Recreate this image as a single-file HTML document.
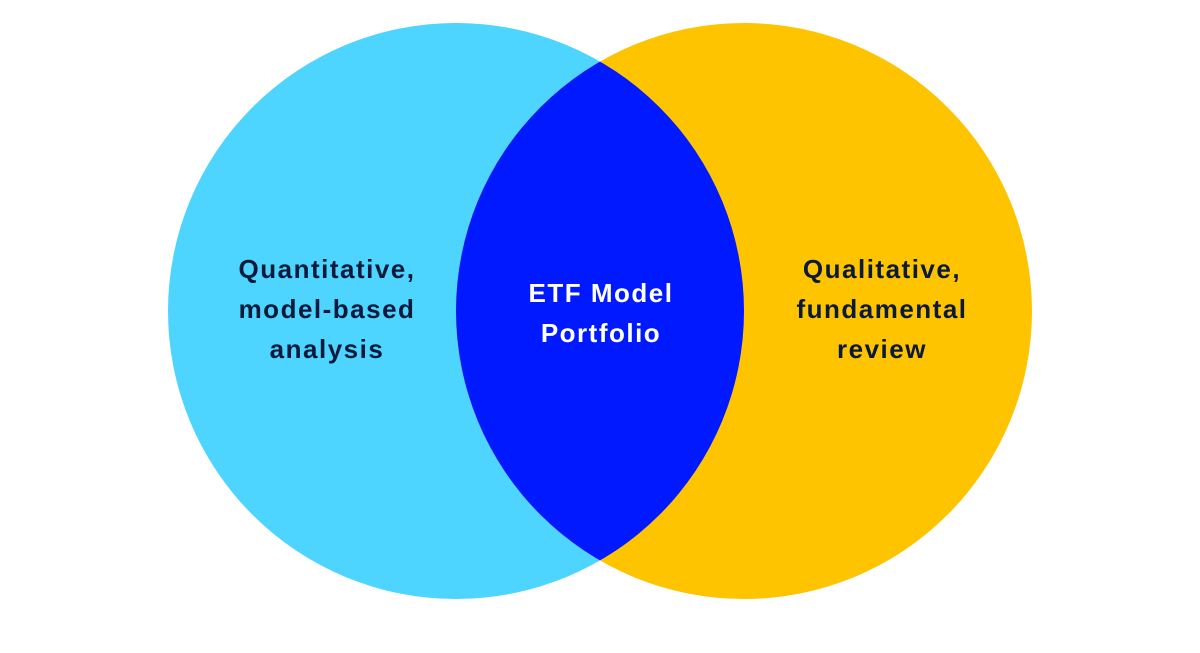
<!DOCTYPE html>
<html><head><meta charset="utf-8"><style>
html,body{margin:0;padding:0;background:#fff;}
svg{display:block}
text{font-family:"Liberation Sans",sans-serif;font-weight:bold;font-size:26px;letter-spacing:1.5px;}
</style></head><body>
<svg width="1200" height="653" viewBox="0 0 1200 653">
<defs>
<clipPath id="cl"><circle cx="456" cy="311" r="288"/></clipPath>
</defs>
<circle cx="456" cy="311" r="288" fill="#4dd4ff"/>
<circle cx="744" cy="311" r="288" fill="#ffc400"/>
<circle cx="744" cy="311" r="288" fill="#0019ff" clip-path="url(#cl)"/>
<g fill="#0b1a3b" text-anchor="middle">
<text x="327" y="278">Quantitative,</text>
<text x="327" y="318">model-based</text>
<text x="327" y="358">analysis</text>
<text x="882" y="278">Qualitative,</text>
<text x="882" y="318">fundamental</text>
<text x="882" y="358">review</text>
</g>
<g fill="#fff" text-anchor="middle">
<text x="601" y="302">ETF Model</text>
<text x="601" y="342">Portfolio</text>
</g>
</svg>
</body></html>
